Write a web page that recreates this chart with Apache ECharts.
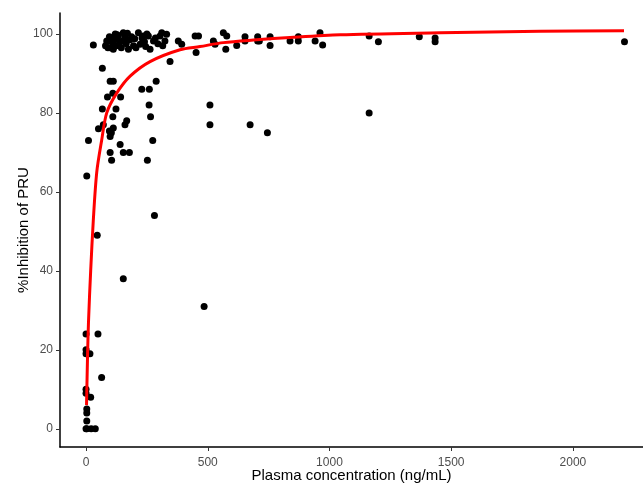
<!DOCTYPE html>
<html>
<head>
<meta charset="utf-8">
<script src="https://cdn.jsdelivr.net/npm/echarts@6/dist/echarts.min.js"></script>
<style>html,body{margin:0;padding:0;background:#fff}#c{width:643px;height:485px}</style>
</head>
<body>
<div id="c"></div>
<script>
var xTicks = [0, 500, 1000, 1500, 2000];
var yTicks = [0, 20, 40, 60, 80, 100];

var lowPoints = [[0,0],[3,0],[21,0],[38,0],[3,2],[3,4],[3,5],[0,9],[0,10],[19,8],[64,13],[0,19],[0,20],[16,19],[0,24],[49,24],[3,64],[46,49],[153,38],[281,54],[485,31]];
var midPoints = [[10,73],[51,76],[71,77],[96,75.4],[99,74],[112,76.2],[104,75],[160,77],[167,78],[67,81],[123,81],[110,79],[88,84],[110,85],[142,84],[99,88],[112,88],[67,91.3],[99,70],[153,70],[178,70],[140,72],[105,68],[252,68],[274,73],[259,82],[265,79],[229,86],[260,86],[288,88],[345,93],[509,82],[509,77],[674,77],[745,75],[1163,80]];
var topPoints = [[30,97.2],[96,99.3],[96,98.2],[85,98.2],[112,97.4],[112,96.1],[133,99.5],[153,100.3],[153,98.2],[174,96.1],[187,99.3],[215,100.3],[222,97.4],[235,99.5],[256,99.5],[263,96.1],[277,98.2],[304,99.5],[311,100.3],[331,99.9],[324,98.2],[379,98.2],[393,97.4],[448,99.5],[462,99.5],[452,95.3],[523,98.2],[530,97.4],[564,100.3],[578,99.5],[574,96.1],[619,97.1],[653,99.3],[653,98.2],[705,99.3],[705,98.2],[712,98.2],[756,99.3],[756,97.1],[838,98.2],[872,99.3],[872,98.2],[941,98.2],[961,100.3],[972,97.2],[1163,99.5],[1201,98],[1369,99.3],[1434,99],[1434,98],[2212,98],
  [80,97],[90,96.5],[100,96.5],[105,99],[118,98.5],[125,97],[128,99.8],[140,98],[145,96.5],[160,99],[165,97.5],[180,98.5],[195,97],[200,98.8],[205,96.5],[240,98],[245,96.8],[250,100],[285,99],[295,97.5],[315,97],[120,100],[170,100.2],[230,99]];

var curveX = [2, 6, 10, 19, 30, 44, 64, 85, 126, 181, 263, 386, 468, 564, 701, 838, 1044, 1454, 1865, 2210];
var curveY = [6, 18, 27, 40, 53, 65, 73, 80, 85, 89.3, 93, 96, 96.8, 97.8, 98.5, 99.1, 99.8, 100.3, 100.7, 100.8];

var points = lowPoints.concat(midPoints, topPoints);
var curve = curveX.map(function (x, i) { return [x, curveY[i]]; });

var chart = echarts.init(document.getElementById('c'), null, {renderer: 'canvas'});
var axisFont = {fontFamily: 'Liberation Sans, Arial, sans-serif', fontSize: 12, color: '#4d4d4d'};
function plain(v) { return String(v); }
chart.setOption({
  animation: false,
  backgroundColor: '#ffffff',
  grid: {left: 60, top: 13, width: 583, height: 434, containLabel: false, outerBoundsMode: 'none'},
  xAxis: {
    type: 'value', min: -107, max: 2288,
    name: 'Plasma concentration (ng/mL)', nameLocation: 'middle', nameGap: 21, nameMoveOverlap: false,
    nameTextStyle: {fontFamily: 'Liberation Sans, Arial, sans-serif', fontSize: 15, color: '#000'},
    axisLine: {show: true, onZero: false, lineStyle: {color: '#000', width: 1.5}},
    axisTick: {show: true, length: 4, lineStyle: {color: '#333', width: 1}, customValues: xTicks},
    axisLabel: Object.assign({margin: 10, customValues: xTicks, formatter: plain}, axisFont),
    splitLine: {show: false}
  },
  yAxis: {
    type: 'value', min: -4.6, max: 105.3,
    name: '%Inhibition of PRU', nameLocation: 'middle', nameGap: 29, nameRotate: 90, nameMoveOverlap: false,
    nameTextStyle: {fontFamily: 'Liberation Sans, Arial, sans-serif', fontSize: 15, color: '#000'},
    axisLine: {show: true, onZero: false, lineStyle: {color: '#000', width: 1.5}},
    axisTick: {show: true, length: 4, lineStyle: {color: '#333', width: 1}, customValues: yTicks},
    axisLabel: Object.assign({margin: 7, customValues: yTicks, formatter: plain}, axisFont),
    splitLine: {show: false}
  },
  series: [
    {type: 'scatter', data: points, symbolSize: 7, itemStyle: {color: '#000', opacity: 1}, z: 2},
    {type: 'line', data: curve, smooth: 0.3, showSymbol: false, lineStyle: {color: '#ff0000', width: 3}, z: 3}
  ]
});
</script>
</body>
</html>
